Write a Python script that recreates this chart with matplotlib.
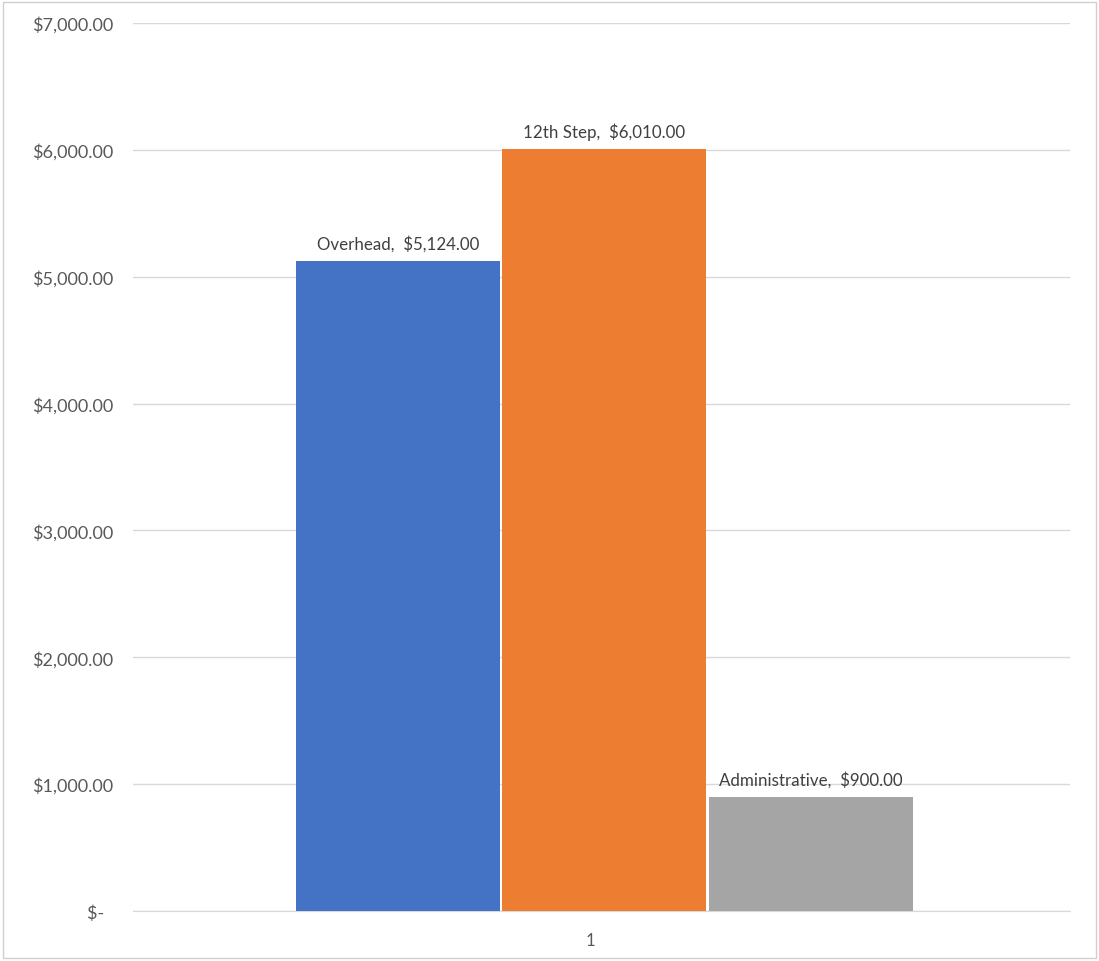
import numpy as np
import matplotlib
matplotlib.use("Agg")
from matplotlib import pyplot as plt
from matplotlib.patches import Rectangle

# data
series = ['Overhead', '12th Step', 'Administrative']
values = [5124.00, 6010.00, 900.00]
colors = ['#4472C4', '#ED7D31', '#A5A5A5']
categories = ['1']
yticks = [0, 1000, 2000, 3000, 4000, 5000, 6000, 7000]

plt.rcParams['font.family'] = ['Lato', 'DejaVu Sans']

fig = plt.figure(figsize=(10.99, 9.62), dpi=100)
ax = fig.add_axes([133 / 1099, 50 / 962, 937 / 1099, 888 / 962])

# chart border
fig.patches.append(Rectangle((0.003, 0.003), 0.994, 0.994, transform=fig.transFigure,
                             fill=False, edgecolor='#d0d0d0', linewidth=1))

width = 0.2177
step = 0.2204
x = np.arange(len(categories))
for i, (name, v, c) in enumerate(zip(series, values, colors)):
    pos = x + (i - 1) * step + 0.003
    ax.bar(pos, [v], width=width, color=c, zorder=3)
    ax.text(pos[0], v + 70, f'{name},  ${v:,.2f}', ha='center', va='bottom',
            fontsize=12.2, color='#404040')

def fmt(v):
    if v == 0:
        return '$-  '
    return f'${v:,.2f}'

ax.set_xlim(-0.5, 0.5)
ax.set_ylim(0, 7000)
ax.set_yticks(yticks)
ax.set_yticklabels([fmt(v) for v in yticks])
ax.set_xticks(x - 0.012)
ax.set_xticklabels(categories)
ax.grid(axis='y', color='#d9d9d9', linewidth=1, zorder=0)
ax.tick_params(axis='y', length=0, pad=14, labelsize=13, labelcolor='#595959')
ax.tick_params(axis='x', length=0, pad=15, labelsize=12, labelcolor='#595959')
for s in ['top', 'right', 'left']:
    ax.spines[s].set_visible(False)
ax.spines['bottom'].set_color('#d9d9d9')

fig.savefig('out.png', dpi=100)
